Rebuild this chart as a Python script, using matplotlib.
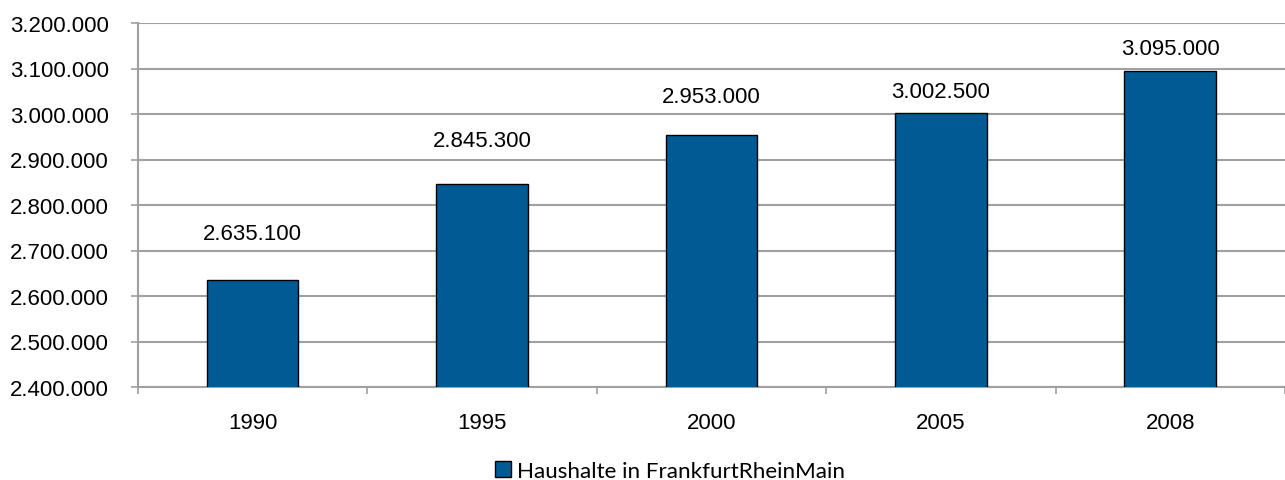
import matplotlib
matplotlib.use('Agg')
import matplotlib.pyplot as plt
from matplotlib.ticker import FuncFormatter, FixedLocator

years = ['1990', '1995', '2000', '2005', '2008']
haushalte = [2635100, 2845300, 2953000, 3002500, 3095000]
series_name = 'Haushalte in FrankfurtRheinMain'
# gap between bar top and label baseline, in pixels (labels were placed by hand)
label_gap_px = [41, 38, 33, 16, 17]


def de_fmt(v, pos=None):
    return '{:,.0f}'.format(v).replace(',', '.')


plt.rcParams['font.family'] = ['Liberation Sans', 'DejaVu Sans']

fig = plt.figure(figsize=(12.85, 4.81), dpi=100)
ax = fig.add_axes([137.8 / 1285, 1 - 388 / 481, 1 - 137.8 / 1285, (388 - 24) / 481])

x = list(range(len(years)))
bars = ax.bar(x, haushalte, width=0.4, color='#005a94', edgecolor='black',
              linewidth=1.0, label=series_name, zorder=3)

ax.set_ylim(2400000, 3200000)
ax.set_xlim(-0.5, len(years) - 0.5)
ax.set_yticks(range(2400000, 3200001, 100000))
ax.yaxis.set_major_formatter(FuncFormatter(de_fmt))
ax.yaxis.grid(True, color='#a0a0a0', linewidth=1.5, zorder=0)

ax.xaxis.set_major_locator(FixedLocator([i - 0.5 for i in range(len(years) + 1)]))
ax.xaxis.set_minor_locator(FixedLocator(x))
ax.set_xticklabels([])
ax.set_xticklabels(years, minor=True)

ax.tick_params(axis='y', length=5, width=1.2, color='#a0a0a0', pad=16,
               labelsize=16)
ax.tick_params(axis='x', which='major', length=5, width=1.2, color='#a0a0a0')
ax.tick_params(axis='x', which='minor', length=0, pad=18, labelsize=16)

for s in ['top', 'right']:
    ax.spines[s].set_visible(False)
for s in ['left', 'bottom']:
    ax.spines[s].set_color('#a0a0a0')
    ax.spines[s].set_linewidth(1.5)

for xi, v, gap in zip(x, haushalte, label_gap_px):
    ax.annotate(de_fmt(v), (xi, v), xytext=(0, gap * 0.72), textcoords='offset points',
                ha='center', va='baseline', fontsize=16)

fig.legend(handles=[bars], labels=[series_name], loc='center',
           bbox_to_anchor=(670 / 1285, 1 - 472 / 481), frameon=False,
           handlelength=0.7, handleheight=0.7, handletextpad=0.25,
           prop={'family': 'Lato', 'size': 16.1})

fig.savefig('out.png', dpi=100)
